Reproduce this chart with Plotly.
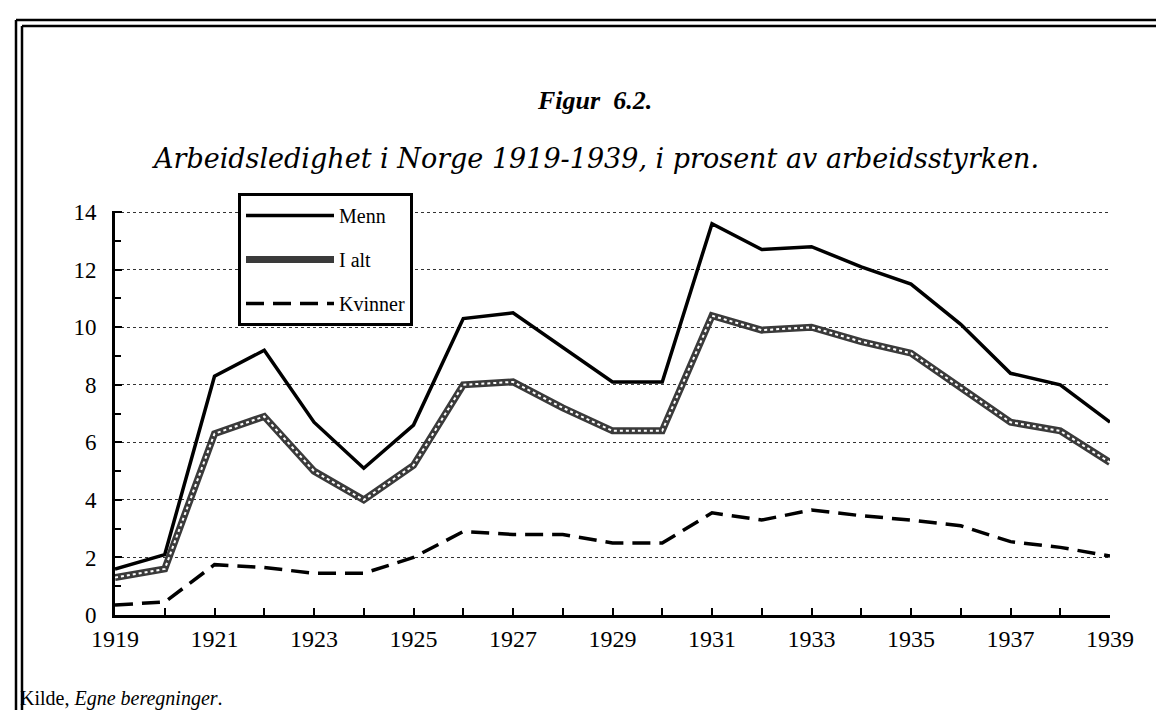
import plotly.graph_objects as go

years = list(range(1919, 1940))
menn = [1.6, 2.1, 8.3, 9.2, 6.7, 5.1, 6.6, 10.3, 10.5, 9.3, 8.1, 8.1,
        13.6, 12.7, 12.8, 12.1, 11.5, 10.1, 8.4, 8.0, 6.7]
i_alt = [1.3, 1.6, 6.3, 6.9, 5.0, 4.0, 5.2, 8.0, 8.1, 7.2, 6.4, 6.4,
         10.4, 9.9, 10.0, 9.5, 9.1, 7.9, 6.7, 6.4, 5.3]
kvinner = [0.35, 0.45, 1.75, 1.65, 1.45, 1.45, 2.0, 2.9, 2.8, 2.8, 2.5, 2.5,
           3.55, 3.3, 3.65, 3.45, 3.3, 3.1, 2.55, 2.35, 2.05]
x_ticks = list(range(1919, 1940, 2))
y_ticks = list(range(0, 15, 2))

W, H = 1164, 710
L, R, T, B = 107, 62, 203, 103
PW, PH = W - L - R, H - T - B

def px(x):
    return (x - L) / PW

def py(y):
    return (H - B - y) / PH

SERIF = "Liberation Serif, Times New Roman, serif"
WIDE = "DejaVu Serif, serif"

fig = go.Figure()
fig.add_trace(go.Scatter(x=years, y=menn, mode="lines", name="Menn",
                         line=dict(color="black", width=3.5), legendgroup="a"))
fig.add_trace(go.Scatter(x=years, y=i_alt, mode="lines", name="I alt",
                         line=dict(color="#3a3a3a", width=7), legendgroup="b"))
fig.add_trace(go.Scatter(x=years, y=i_alt, mode="lines", showlegend=False,
                         line=dict(color="white", width=2, dash="dot"), legendgroup="b",
                         hoverinfo="skip"))
fig.add_trace(go.Scatter(x=years, y=kvinner, mode="lines", name="Kvinner",
                         line=dict(color="black", width=3.5, dash="18px,9px"), legendgroup="c"))

fig.update_layout(
    width=W, height=H,
    margin=dict(l=L, r=R, t=T, b=B),
    paper_bgcolor="white", plot_bgcolor="white",
    font=dict(family=SERIF, color="black", size=20),
    showlegend=True,
    legend=dict(
        x=px(230), y=py(185), xanchor="left", yanchor="top",
        bordercolor="black", borderwidth=3, bgcolor="white",
        font=dict(family=SERIF, size=20, color="black"),
        itemwidth=88, tracegroupgap=15, traceorder="grouped",
    ),
    xaxis=dict(
        range=[1919, 1939], tickvals=x_ticks, ticktext=[str(v) for v in x_ticks],
        showgrid=False, zeroline=False,
        showline=True, linecolor="black", linewidth=3,
        ticks="inside", ticklen=7, tickwidth=2, tickcolor="black",
        minor=dict(dtick=1, ticks="inside", ticklen=7, tickwidth=2, tickcolor="black", showgrid=False),
        ticklabelstandoff=0, tickfont=dict(size=24, family=SERIF),
    ),
    yaxis=dict(
        range=[0, 14.04], tickvals=y_ticks, ticktext=[str(v) for v in y_ticks],
        showgrid=True, gridcolor="#333", griddash="dot", gridwidth=1.2,
        zeroline=False,
        showline=True, linecolor="black", linewidth=3,
        ticks="inside", ticklen=7, tickwidth=2, tickcolor="black",
        minor=dict(dtick=1, ticks="inside", ticklen=6, tickwidth=2, tickcolor="black", showgrid=False),
        ticklabelstandoff=11, tickfont=dict(size=23, family=SERIF),
    ),
)

fig.add_annotation(x=px(586), y=py(93), xref="paper", yref="paper",
                   text="<b><i>Figur  6.2.</i></b>", showarrow=False,
                   font=dict(family=SERIF, size=26, color="black"),
                   xanchor="center", yanchor="middle")
fig.add_annotation(x=px(587), y=py(150), xref="paper", yref="paper",
                   text="<i>Arbeidsledighet i Norge 1919-1939, i prosent av arbeidsstyrken.</i>",
                   showarrow=False, font=dict(family=WIDE, size=27, color="black"),
                   xanchor="center", yanchor="middle")
fig.add_annotation(x=px(10), y=py(690), xref="paper", yref="paper",
                   text="Kilde, <i>Egne beregninger</i>.", showarrow=False,
                   font=dict(family=SERIF, size=20, color="black"),
                   xanchor="left", yanchor="middle")

# frame
for x0 in (8, 14):
    fig.add_shape(type="line", xref="paper", yref="paper",
                  x0=px(x0), x1=px(x0), y0=py(12 if x0 == 8 else 18), y1=py(708),
                  line=dict(color="black", width=2.5))
for y0 in (12, 18):
    fig.add_shape(type="line", xref="paper", yref="paper",
                  x0=px(8 if y0 == 12 else 14), x1=px(1164), y0=py(y0), y1=py(y0),
                  line=dict(color="black", width=2.5))
fig.add_shape(type="line", xref="paper", yref="paper",
              x0=px(14), x1=px(1164), y0=py(707), y1=py(707),
              line=dict(color="black", width=1.5))

fig.write_html("out.html")
